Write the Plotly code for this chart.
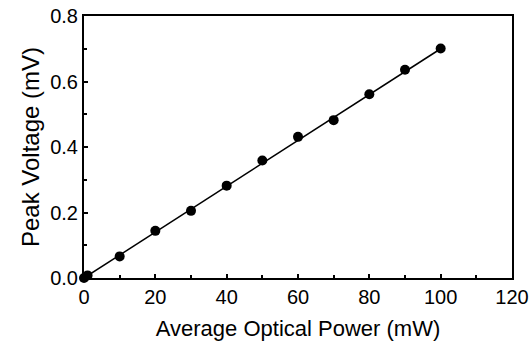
import plotly.graph_objects as go

power_mw = [0, 1, 10, 20, 30, 40, 50, 60, 70, 80, 90, 100]
peak_mv = [0.0, 0.008, 0.066, 0.144, 0.205, 0.282, 0.359, 0.431, 0.482, 0.561, 0.636, 0.701]
fit_x = [0, 100]
fit_y = [0.0, 0.700]

x_ticks = [0, 20, 40, 60, 80, 100, 120]
y_ticks = [0.0, 0.2, 0.4, 0.6, 0.8]

fig = go.Figure()
fig.add_trace(go.Scatter(x=fit_x, y=fit_y, mode="lines",
                         line=dict(color="black", width=1.5), showlegend=False))
fig.add_trace(go.Scatter(x=power_mw, y=peak_mv, mode="markers",
                         marker=dict(color="black", size=10), showlegend=False,
                         cliponaxis=False))

font = dict(family="Liberation Sans, Arial, sans-serif", color="black")
fig.update_layout(
    width=530, height=341,
    margin=dict(l=84, r=18, t=16, b=63),
    paper_bgcolor="white", plot_bgcolor="white",
    font=dict(**font, size=20),
    xaxis=dict(range=[0, 120], tickvals=x_ticks, ticktext=[str(v) for v in x_ticks],
               showgrid=False, zeroline=False, showline=True, linecolor="black",
               linewidth=2, mirror=True, ticks="inside", ticklen=4, tickwidth=1.5,
               tickcolor="black", automargin=False, ticklabeloverflow="allow",
               minor=dict(dtick=10, ticks="inside", ticklen=3, tickcolor="black", showgrid=False),
               tickfont=dict(**font, size=20),
               title=dict(text="Average Optical Power (mW)", font=dict(**font, size=22))),
    yaxis=dict(range=[0, 0.8], tickvals=y_ticks, ticktext=[f"{v:.1f}" for v in y_ticks],
               showgrid=False, zeroline=False, showline=True, linecolor="black",
               linewidth=2, mirror=True, ticks="inside", ticklen=4, tickwidth=1.5,
               tickcolor="black", automargin=False, ticklabeloverflow="allow",
               minor=dict(dtick=0.1, ticks="inside", ticklen=3, tickcolor="black", showgrid=False),
               tickfont=dict(**font, size=20),
               title=dict(text="Peak Voltage (mV)", font=dict(**font, size=24), standoff=4)),
)

# remove the browser's default 8px body margin so the figure fills the window exactly
fig.write_html("out.html", config={"displayModeBar": False},
               post_script="document.body.style.margin='0';")
